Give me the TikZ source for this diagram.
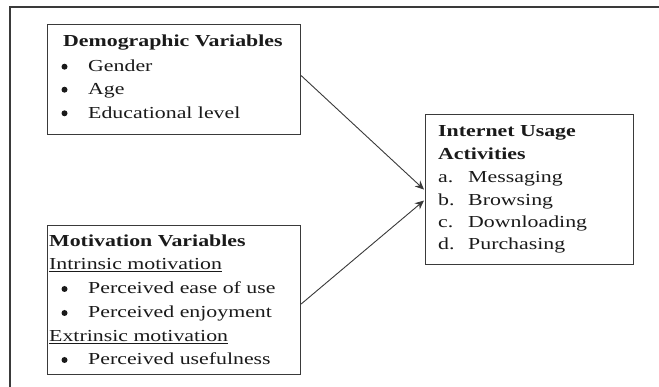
\documentclass[tikz,border=0pt]{standalone}
\usepackage{fontspec}
\setmainfont{Liberation Serif}[FakeStretch=1.3]
\usetikzlibrary{arrows.meta}
\definecolor{lin}{HTML}{3A3A3A}
\definecolor{txtc}{HTML}{1A1A1A}
\tikzset{
  box/.style={draw=lin, line width=1.1pt, fill=white, inner sep=0pt, anchor=north west},
  txt/.style={anchor=base west, inner sep=0pt, text=txtc, font=\fontsize{16.8}{23.7}\selectfont},
  bul/.style={circle, fill=txtc, inner sep=0pt, minimum size=6pt},
  frame/.style={draw=lin, line width=1.4pt},
  conn/.style={draw=lin, line width=0.9pt, -{Stealth[length=9pt,width=8pt]}}
}
\begin{document}
\begin{tikzpicture}[x=1pt,y=-1pt]
\useasboundingbox (0,0) rectangle (659,387);
\fill[white] (0,0) rectangle (659,387);
% outer frame (top and left)
\coordinate (fa) at (659,7);
\coordinate (fb) at (10,7);
\coordinate (fc) at (10,387);
\draw[frame] (fa) -- (fb) -- (fc);
% boxes
\node[box, minimum width=253pt, minimum height=110pt] (demo) at (47,24) {};
\node[box, minimum width=253pt, minimum height=149pt] (mot) at (47,225) {};
\node[box, minimum width=208pt, minimum height=150pt] (act) at (425,114) {};
% box 1 text
\node[txt] (d0) at (63,46.7) {\textbf{Demographic Variables}};
\node[bul] (db1) at (64.5,66.7) {};
\node[txt] (d1) at (88,71.7) {Gender};
\node[bul] (db2) at (64.5,89.7) {};
\node[txt] (d2) at (88,94.7) {Age};
\node[bul] (db3) at (64.5,113.3) {};
\node[txt] (d3) at (88,118.3) {Educational level};
% box 2 text
\node[txt] (m0) at (49,246.7) {\textbf{Motivation Variables}};
\node[txt] (m1) at (49,270) {\underline{Intrinsic motivation}};
\node[bul] (mb2) at (64.5,289) {};
\node[txt] (m2) at (88,294) {Perceived ease of use};
\node[bul] (mb3) at (64.5,313) {};
\node[txt] (m3) at (88,318) {Perceived enjoyment};
\node[txt] (m4) at (49,341.7) {\underline{Extrinsic motivation}};
\node[bul] (mb5) at (64.5,360) {};
\node[txt] (m5) at (88,365) {Perceived usefulness};
% box 3 text
\node[txt] (a0) at (438,137) {\textbf{Internet Usage}};
\node[txt] (a1) at (438,160) {\textbf{Activities}};
\node[txt] (al2) at (438,183) {a.};
\node[txt] (a2) at (468,183) {Messaging};
\node[txt] (al3) at (438,206) {b.};
\node[txt] (a3) at (468,206) {Browsing};
\node[txt] (al4) at (438,228) {c.};
\node[txt] (a4) at (468,228) {Downloading};
\node[txt] (al5) at (438,250) {d.};
\node[txt] (a5) at (468,250) {Purchasing};
% connectors
\draw[conn] ([yshift=4pt]demo.east) -- ([xshift=-1pt]act.west);
\draw[conn] ([yshift=-4pt]mot.east) -- ([xshift=-1pt,yshift=-11pt]act.west);
\end{tikzpicture}
\end{document}
